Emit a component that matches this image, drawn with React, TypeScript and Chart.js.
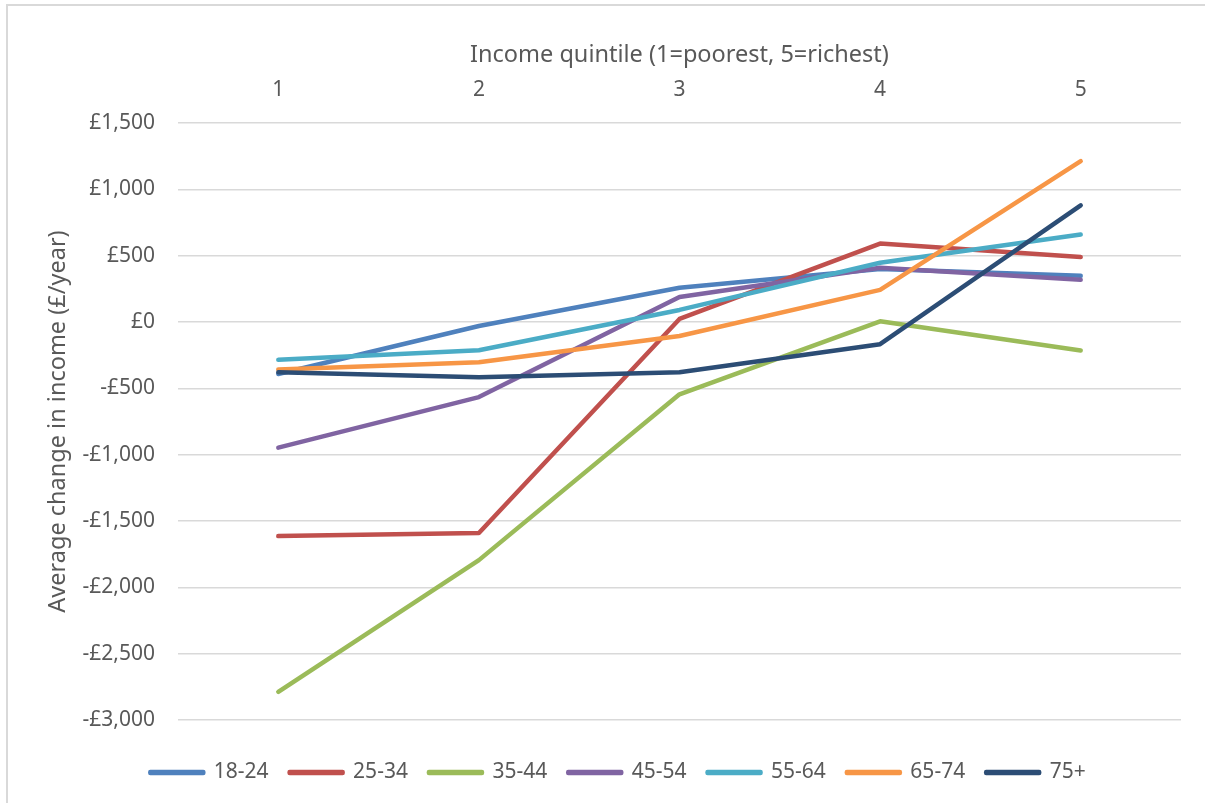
import React, { useEffect, useRef } from "react";
import { Chart, registerables } from "chart.js";

Chart.register(...registerables);

const categories = ["1", "2", "3", "4", "5"];
const seriesNames = ["18-24", "25-34", "35-44", "45-54", "55-64", "65-74", "75+"];
const age18_24 = [-392, -30, 258, 400, 348];
const age25_34 = [-1614, -1591, 23, 591, 490];
const age35_44 = [-2788, -1795, -545, 5, -215];
const age45_54 = [-947, -566, 189, 409, 318];
const age55_64 = [-285, -213, 91, 447, 659];
const age65_74 = [-358, -303, -106, 242, 1212];
const age75plus = [-379, -417, -379, -167, 879];
const seriesColors = ["#4F81BD", "#C0504D", "#9BBB59", "#8064A2", "#4BACC6", "#F79646", "#2C4D75"];
const xTitle = "Income quintile (1=poorest, 5=richest)";
const yTitle = "Average change in income (£/year)";
const yMin = -3000;
const yMax = 1500;
const yStep = 500;

const FONT = "'Noto Sans', sans-serif";
const TEXT = "#595959";

function fmt(v: number): string {
  const abs = Math.abs(v).toLocaleString("en-GB");
  return (v < 0 ? "-£" : "£") + abs;
}

export default function App() {
  const ref = useRef<HTMLCanvasElement | null>(null);
  useEffect(() => {
    if (!ref.current) return;
    const values = [age18_24, age25_34, age35_44, age45_54, age55_64, age65_74, age75plus];
    const chart = new Chart(ref.current, {
      type: "line",
      data: {
        labels: categories,
        datasets: values.map((d, i) => ({
          label: seriesNames[i],
          data: d,
          borderColor: seriesColors[i],
          backgroundColor: seriesColors[i],
          borderWidth: 4.5,
          borderCapStyle: "round" as const,
          borderJoinStyle: "round" as const,
          pointRadius: 0,
          pointHoverRadius: 0,
          tension: 0,
          fill: false,
          order: values.length - i,
          xAxisID: "x",
          yAxisID: "y",
        })),
      },
      options: {
        animation: false,
        responsive: false,
        maintainAspectRatio: false,
        layout: { padding: { left: 55, right: 24, top: 0, bottom: 10 } },
        plugins: {
          tooltip: { enabled: false },
          legend: {
            position: "bottom",
            labels: {
              boxWidth: 53,
              boxHeight: 1,
              padding: 21,
              color: TEXT,
              font: { family: FONT, size: 21 },
              sort: (a: any, b: any) => a.datasetIndex - b.datasetIndex,
            },
          },
        },
        scales: {
          x: {
            type: "category",
            position: "top",
            offset: true,
            grid: { display: false, drawTicks: false },
            border: { display: false },
            ticks: { color: TEXT, font: { family: FONT, size: 21 }, padding: 20 },
            title: {
              display: true,
              text: xTitle,
              color: TEXT,
              font: { family: FONT, size: 23.5 },
              padding: { top: 41, bottom: 0 },
            },
            afterFit: (s: any) => {
              s.height = 123;
            },
          },
          x2: {
            type: "linear",
            position: "bottom",
            display: true,
            grid: { display: false, drawTicks: false },
            border: { display: false },
            ticks: { display: false },
            afterFit: (s: any) => {
              s.height = 21;
            },
          },
          y: {
            type: "linear",
            min: yMin,
            max: yMax,
            grid: { color: "#D9D9D9", lineWidth: 1.5, drawTicks: false },
            border: { display: false },
            ticks: {
              stepSize: yStep,
              color: TEXT,
              font: { family: FONT, size: 21 },
              padding: 23,
              callback: (v: any) => fmt(Number(v)),
            },
            title: {
              display: true,
              text: yTitle,
              color: TEXT,
              font: { family: FONT, size: 23.5 },
              padding: { top: -11, bottom: 0 },
            },
            afterFit: (s: any) => {
              s.width = 123;
            },
          },
        },
      },
    });
    return () => chart.destroy();
  }, []);

  return (
    <div style={{ position: "fixed", left: 0, top: 0, width: 1205, height: 803, background: "#fff" }}>
      <div
        style={{
          position: "absolute",
          left: 6,
          top: 4,
          width: 1205,
          height: 803,
          borderLeft: "2px solid #D9D9D9",
          borderTop: "2px solid #D9D9D9",
        }}
      />
      <canvas ref={ref} width={1205} height={803} style={{ position: "absolute", left: 0, top: 0 }} />
    </div>
  );
}
